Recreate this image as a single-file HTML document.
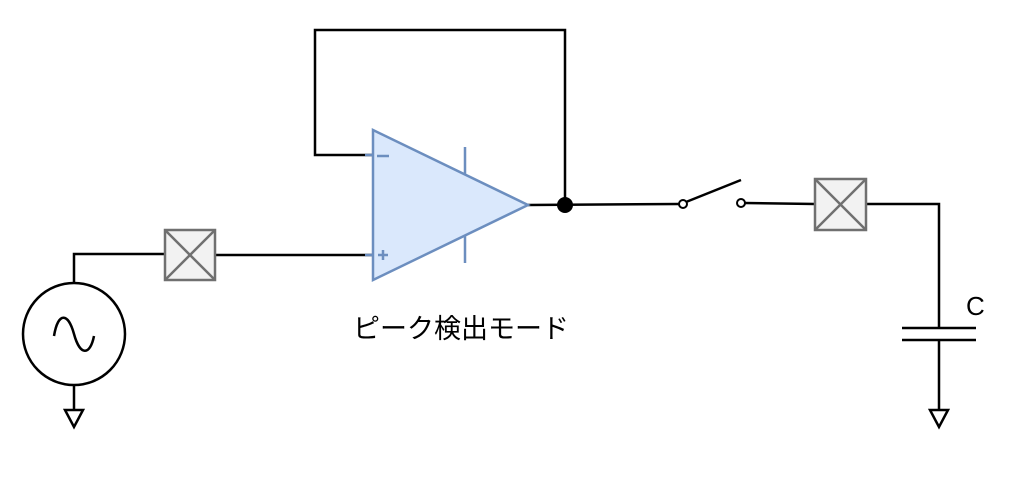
<!DOCTYPE html>
<html><head><meta charset="utf-8"><style>
html,body{margin:0;padding:0;background:#fff;width:1021px;height:486px;overflow:hidden;position:relative}
.t{position:absolute;left:353px;top:310px;font-family:"Noto Sans CJK JP",sans-serif;font-size:27px;line-height:34px;letter-spacing:0;color:#000;white-space:nowrap}
.c{position:absolute;left:966px;top:291px;font-family:"Liberation Sans",sans-serif;font-size:26px;line-height:30px;color:#000}
</style></head><body>
<svg width="1021" height="486" viewBox="0 0 1021 486" xmlns="http://www.w3.org/2000/svg" style="position:absolute;left:0;top:0">
<g fill="none" stroke="#000" stroke-width="2.5">
<polyline points="373,155 315,155 315,30 565,30 565,205"/>
<line x1="528" y1="205" x2="679" y2="204"/>
<line x1="686" y1="202" x2="741" y2="180"/>
<line x1="745" y1="203" x2="815" y2="204"/>
<polyline points="866,204 939,204 939,328"/>
<line x1="902" y1="328" x2="976" y2="328"/>
<line x1="902" y1="340" x2="976" y2="340"/>
<line x1="939" y1="340" x2="939" y2="410"/>
<polygon points="930,410 948,410 939,427"/>
<polyline points="74,283 74,254 165,254"/>
<line x1="215" y1="255" x2="373" y2="255"/>
<circle cx="74" cy="334" r="51"/>
<path d="M54,336 C58,312 68,312 74,334 C80,356 90,356 94,336" />
<line x1="74" y1="385" x2="74" y2="410"/>
<polygon points="65,410 83,410 74,427"/>
</g>
<circle cx="683" cy="204" r="4" fill="#fff" stroke="#000" stroke-width="2"/>
<circle cx="741" cy="203" r="4" fill="#fff" stroke="#000" stroke-width="2"/>
<circle cx="565" cy="205" r="8" fill="#000"/>
<g fill="#f2f2f2" stroke="#707070" stroke-width="2.5">
<rect x="165" y="230" width="50" height="50"/>
<line x1="165" y1="230" x2="215" y2="280"/><line x1="215" y1="230" x2="165" y2="280"/>
<rect x="815" y="179" width="51" height="51"/>
<line x1="815" y1="179" x2="866" y2="230"/><line x1="866" y1="179" x2="815" y2="230"/>
</g>
<g stroke="#6c8ebf" stroke-width="2.5">
<line x1="465" y1="147" x2="465" y2="263"/>
<polygon points="373,130 373,280 528,205" fill="#dae8fc"/>
<line x1="365" y1="155" x2="373" y2="155"/>
<line x1="365" y1="255" x2="373" y2="255"/>
<line x1="377" y1="156" x2="389" y2="156"/>
<line x1="378" y1="255" x2="388" y2="255"/>
<line x1="383" y1="250" x2="383" y2="260"/>
</g>
</svg>
<div class="t">ピーク検出モード</div>
<div class="c">C</div>
</body></html>
